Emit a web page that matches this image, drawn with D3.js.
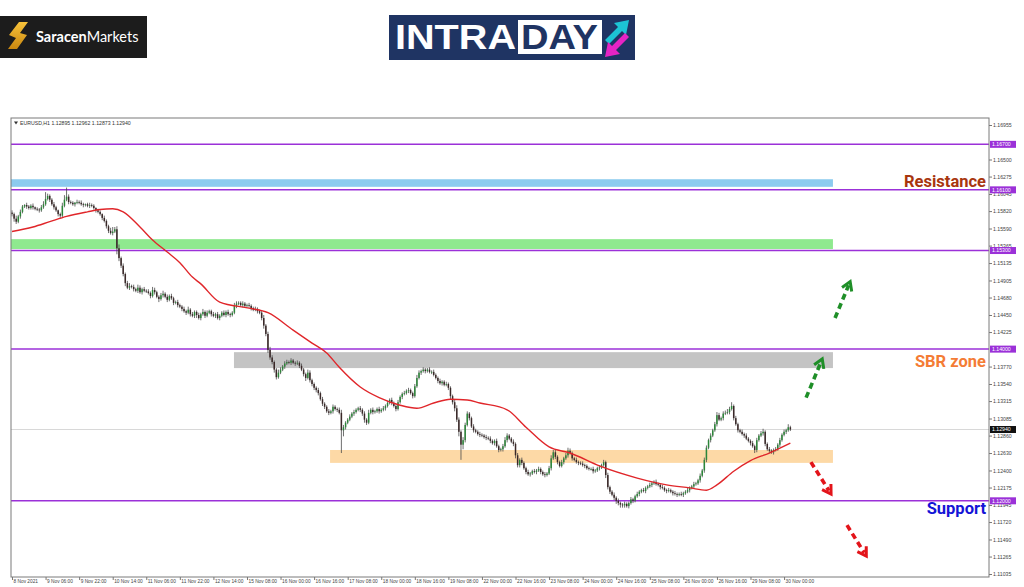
<!DOCTYPE html>
<html><head><meta charset="utf-8">
<script src="https://cdn.jsdelivr.net/npm/d3@7"></script>
<style>body{margin:0;background:#fff;}svg{display:block;}</style>
</head><body>
<svg id="c" width="1024" height="587"></svg>
<script>
// ---------- DATA ----------
const symbolTitle = "EURUSD,H1  1.12895 1.12962 1.12873 1.12940";
const firstOpen = 1.1580;
const closes = [
1.1578,1.1572,1.1568,1.1575,1.1581,1.1588,1.1590,1.1588,1.1586,1.1589,1.1587,1.1585,1.1584,1.1583,1.1587,1.1591,
1.1598,1.1602,1.1597,1.1591,1.1587,1.1583,1.1578,1.1576,1.1589,1.1597,1.1601,1.1594,1.1593,1.1591,1.1593,1.1594,
1.1593,1.1591,1.1590,1.1591,1.1589,1.1590,1.1589,1.1586,1.1583,1.1581,1.1578,1.1573,1.1569,1.1562,1.1556,1.1553,
1.1555,1.1558,1.1533,1.1520,1.1510,1.1499,1.1487,1.1481,1.1483,1.1482,1.1479,1.1477,1.1481,1.1475,1.1479,1.1477,1.1476,
1.1474,1.1470,1.1478,1.1475,1.1469,1.1466,1.1471,1.1473,1.1469,1.1465,1.1470,1.1467,1.1461,1.1462,1.1458,1.1456,
1.1453,1.1450,1.1448,1.1452,1.1446,1.1444,1.1449,1.1445,1.1441,1.1446,1.1449,1.1444,1.1448,1.1450,1.1446,1.1444,
1.1446,1.1441,1.1444,1.1448,1.1445,1.1449,1.1446,1.1445,1.1448,1.1457,1.1460,1.1461,1.1458,1.1460,1.1457,1.1458,
1.1457,1.1454,1.1452,1.1453,1.1450,1.1448,1.1441,1.1431,1.1420,1.1399,1.1389,1.1383,1.1373,1.1363,1.1369,1.1373,
1.1377,1.1381,1.1383,1.1382,1.1385,1.1382,1.1381,1.1382,1.1378,1.1373,1.1367,1.1362,1.1369,1.1359,1.1354,1.1349,1.1346,
1.1342,1.1334,1.1328,1.1324,1.1318,1.1316,1.1318,1.1324,1.1321,1.1320,1.1316,1.1293,1.1297,1.1303,1.1307,1.1311,
1.1315,1.1317,1.1320,1.1322,1.1320,1.1315,1.1307,1.1303,1.1316,1.1320,1.1317,1.1318,1.1321,1.1318,1.1320,1.1322,
1.1325,1.1329,1.1333,1.1329,1.1325,1.1321,1.1330,1.1337,1.1341,1.1342,1.1345,1.1346,1.1342,1.1338,1.1351,1.1362,
1.1369,1.1371,1.1373,1.1371,1.1373,1.1370,1.1370,1.1366,1.1362,1.1358,1.1355,1.1357,1.1353,1.1354,1.1349,1.1338,1.1330,
1.1322,1.1307,1.1291,1.1274,1.1280,1.1300,1.1315,1.1309,1.1298,1.1293,1.1291,1.1288,1.1287,1.1286,1.1284,1.1283,
1.1282,1.1279,1.1276,1.1279,1.1272,1.1267,1.1268,1.1272,1.1280,1.1286,1.1282,1.1278,1.1275,1.1260,1.1247,1.1254,
1.1250,1.1243,1.1238,1.1235,1.1236,1.1239,1.1238,1.1240,1.1242,1.1238,1.1235,1.1234,1.1236,1.1243,1.1256,1.1264,
1.1258,1.1251,1.1246,1.1251,1.1256,1.1260,1.1266,1.1263,1.1256,1.1254,1.1251,1.1250,1.1249,1.1247,1.1246,1.1243,1.1242,
1.1242,1.1239,1.1240,1.1243,1.1244,1.1247,1.1251,1.1234,1.1218,1.1212,1.1208,1.1204,1.1200,1.1197,1.1195,1.1194,
1.1196,1.1193,1.1197,1.1202,1.1200,1.1206,1.1209,1.1212,1.1214,1.1213,1.1217,1.1219,1.1221,1.1223,1.1225,1.1222,
1.1221,1.1218,1.1217,1.1214,1.1213,1.1214,1.1212,1.1210,1.1209,1.1208,1.1209,1.1208,1.1210,1.1212,1.1214,1.1217,
1.1219,1.1222,1.1223,1.1227,1.1233,1.1240,1.1254,1.1270,1.1280,1.1286,1.1293,1.1301,1.1313,1.1307,1.1309,1.1315,1.1316,
1.1317,1.1321,1.1325,1.1309,1.1301,1.1293,1.1291,1.1288,1.1286,1.1282,1.1279,1.1276,1.1272,1.1267,1.1280,1.1286,
1.1289,1.1291,1.1275,1.1268,1.1266,1.1264,1.1267,1.1268,1.1274,1.1280,1.1287,1.1291,1.1293,1.1297,1.1294
];
// wick extents in pips above / below the candle body
const wickUp = [
3,2,4,2,3,2,1,3,2,2,3,1,2,2,3,4,
9,3,2,2,3,2,1,2,4,6,12,3,2,2,1,3,
2,3,2,1,2,3,2,2,1,2,2,1,3,2,2,4,
6,3,4,5,2,3,2,3,4,2,3,2,4,3,2,3,2,
3,2,4,3,2,2,3,4,2,3,2,3,2,2,3,2,
2,3,2,4,2,3,2,2,3,2,4,2,3,2,2,3,
2,3,2,2,3,2,3,2,2,4,3,2,2,3,2,2,
3,2,2,3,2,2,3,4,2,3,4,3,2,2,4,3,
2,3,3,2,3,2,2,3,2,3,2,2,4,3,2,2,2,
3,2,3,2,2,3,2,3,2,2,3,4,3,2,2,3,
2,3,2,2,3,2,3,2,4,2,3,2,2,3,2,3,
2,3,2,3,2,2,3,2,2,3,2,3,2,2,3,4,
3,2,3,2,2,3,2,3,2,2,3,2,2,3,2,2,2,
3,4,3,2,4,3,3,2,2,3,2,2,3,2,2,3,
2,3,2,2,3,2,2,3,4,3,2,2,3,2,3,2,
3,2,2,3,2,2,3,2,3,2,2,3,2,3,4,3,
3,2,2,3,2,3,4,3,2,2,3,2,2,3,2,2,2,
2,3,2,2,3,2,3,2,3,2,2,3,2,3,2,2,
3,2,2,3,2,2,3,2,2,3,2,2,3,2,2,3,
2,2,3,2,2,3,2,2,3,2,2,3,2,2,3,2,
2,3,2,2,3,2,3,3,2,3,2,3,4,3,2,3,3,
4,3,5,2,3,2,2,3,2,3,2,2,3,2,3,2,
3,4,2,2,3,2,2,3,2,3,2,3,2,4,2
];
const wickDn = [
3,4,3,2,3,2,2,3,2,2,3,2,2,3,2,2,
2,2,3,2,3,2,3,4,2,2,2,3,2,2,3,2,
2,2,3,2,2,3,2,2,3,2,2,3,2,3,3,2,
3,2,8,4,3,3,4,2,3,2,3,2,3,2,3,2,2,
2,3,2,3,2,4,2,3,2,3,2,2,3,2,3,2,
3,2,3,2,3,2,3,4,2,3,2,3,2,2,3,2,
3,2,3,2,2,3,2,3,2,2,3,2,2,3,2,2,
2,3,2,2,3,2,3,4,3,4,3,3,4,3,2,2,
2,3,2,2,3,2,3,2,3,2,3,4,2,3,3,3,3,
3,2,3,3,2,3,2,3,2,3,2,30,8,3,2,2,
2,3,2,2,3,3,4,3,2,2,3,2,2,3,2,2,
3,2,2,3,2,3,2,2,3,2,2,3,2,3,2,2,
2,3,2,3,2,2,3,2,2,3,2,3,2,2,3,4,3,
4,3,6,20,6,3,2,3,2,3,2,2,3,2,2,3,
2,3,2,3,2,3,2,3,2,3,2,2,3,4,3,3,
3,2,3,2,3,2,2,3,2,3,2,3,2,2,3,2,
3,3,2,2,3,2,3,2,3,2,2,3,2,2,3,2,2,
2,3,2,2,3,2,2,4,3,3,2,3,4,3,4,3,
3,2,3,2,3,2,2,3,2,2,3,2,2,3,2,2,
2,3,2,2,3,2,2,3,2,3,2,2,3,2,2,3,
2,3,2,2,3,2,3,3,2,3,2,2,3,2,2,3,2,
2,3,2,3,2,3,2,2,3,2,2,3,2,4,3,2,
2,3,3,2,3,2,3,2,2,3,2,2,3,2,2
];
// moving average: [bar index, price]
const maPoints = [
[0,1.1555],[10,1.1561],[18,1.1568],[26,1.1575],[36,1.1581],[42,1.1584],[48,1.1585],[53,1.1581],
[61,1.1561],[67,1.1544],[74,1.1528],[80,1.1514],[86,1.1495],[90,1.1486],[99,1.1462],[113,1.1454],
[122,1.1448],[134,1.1425],[143,1.1408],[150,1.1395],[156,1.1376],[166,1.1350],[175,1.1336],[185,1.1326],
[193,1.1322],[201,1.1329],[209,1.1334],[217,1.1333],[223,1.1329],[236,1.1320],[245,1.1297],[256,1.1271],
[266,1.1263],[280,1.1246],[298,1.1230],[312,1.1221],[323,1.1217],[331,1.1214],[336,1.1221],[344,1.1239],
[352,1.1253],[361,1.1263],[371,1.1276]
];
const levelPrices = [1.16700, 1.16100, 1.15300, 1.14000, 1.12000];
const levelLabels = ["1.16700","1.16100","1.15300","1.14000","1.12000"];
const currentPrice = 1.12940;
const currentLabel = "1.12940";
const yTickValues = [1.16955,1.16500,1.16275,1.16045,1.15820,1.15590,1.15365,1.15135,1.14905,1.14680,1.14450,1.14225,
  1.13770,1.13540,1.13315,1.13085,1.12860,1.12630,1.12400,1.12175,1.11945,1.11720,1.11490,1.11265,1.11035];
const xLabels = ["8 Nov 2021","9 Nov 06:00","9 Nov 22:00","10 Nov 14:00","11 Nov 06:00","11 Nov 22:00","12 Nov 14:00",
  "15 Nov 08:00","16 Nov 00:00","16 Nov 16:00","17 Nov 08:00","18 Nov 00:00","18 Nov 16:00","19 Nov 08:00",
  "22 Nov 00:00","22 Nov 16:00","23 Nov 08:00","24 Nov 00:00","24 Nov 16:00","25 Nov 08:00","26 Nov 00:00",
  "26 Nov 16:00","29 Nov 08:00","30 Nov 00:00"];
const barsPerLabel = 16;
// zones: [top price, bottom price, from bar, to bar]
const zoneNames = ["resistance","upper","sbr","base"];
const zoneTop =    [1.1624, 1.1545, 1.1396, 1.1267];
const zoneBottom = [1.1614, 1.1532, 1.1375, 1.1250];
const zoneFrom =   [-0.5, -0.5, 105.8, 151.6];
const zoneTo =     [391.3, 391.3, 391.3, 391.3];
// scenario arrows: [from bar, from price, to bar, to price]
const arrowNames = ["up1","up2","down1","down2"];
const arrowData = [[392.3,1.1441,399.5,1.1489],[378.5,1.1336,386.2,1.1387],[380.8,1.1251,390.4,1.1209],[398.0,1.1168,407.2,1.1127]];
const annoTexts = ["Resistance","SBR zone","Support"];
const annoPrices = [1.1614, 1.1377, 1.1183];

// ---------- STYLES ----------
const zoneColors = {resistance:"#8ccbef", upper:"#8fe98f", sbr:"#c4c4c4", base:"#fdd9a6"};
const arrowColors = {up1:"#1f8f28", up2:"#1f8f28", down1:"#e3141a", down2:"#e3141a"};
const annoColors = ["#a8360e","#f47c35","#1414d6"];
const purple = "#9b31d8";

// ---------- SCALES ----------
const svg = d3.select("#c");
const P = {l:11, t:118, r:989, b:577};
const step = 2.098;
const x = d3.scaleLinear().domain([0, 466]).range([12, 12 + 466*step]);
const y = d3.scaleLinear().domain([1.11035, 1.16955]).range([574, 125]);

// ---------- HEADER ----------
const hd = svg.append("g");
hd.append("rect").attr("x",0).attr("y",16).attr("width",147).attr("height",42).attr("fill","#1c1c1c");
const grad = svg.append("defs").append("linearGradient").attr("id","gold").attr("x1",0).attr("y1",0).attr("x2",0).attr("y2",1);
grad.append("stop").attr("offset","0%").attr("stop-color","#f7c23a");
grad.append("stop").attr("offset","100%").attr("stop-color","#c98710");
hd.append("path").attr("d","M19,22 L28,22 L20,33 L27,35 L17,49 L8,49 L16,38 L9,35 Z").attr("fill","url(#gold)");
const st = hd.append("text").attr("x",36).attr("y",42).attr("fill","#fff").attr("font-family","Lato, 'Open Sans', sans-serif").attr("font-size",14.5);
st.append("tspan").attr("font-weight",700).text("Saracen");
st.append("tspan").attr("font-weight",400).text("Markets");

hd.append("rect").attr("x",389).attr("y",15).attr("width",246).attr("height",45).attr("fill","#1f3463");
hd.append("text").attr("x",395).attr("y",49).attr("fill","#fff").attr("font-family","'Liberation Sans', Arial, sans-serif")
  .attr("font-weight",700).attr("font-size",35).attr("textLength",121).attr("lengthAdjust","spacingAndGlyphs").text("INTRA");
hd.append("rect").attr("x",518).attr("y",20).attr("width",84).attr("height",34).attr("fill","#fff");
hd.append("text").attr("x",521).attr("y",49).attr("fill","#1f3463").attr("font-family","'Liberation Sans', Arial, sans-serif")
  .attr("font-weight",700).attr("font-size",35).attr("textLength",77).attr("lengthAdjust","spacingAndGlyphs").text("DAY");
hd.append("path").attr("d","M605,40 L618,27 L614,23 L629,20 L626,35 L622,31 L609,44 Z").attr("fill","#1cc4d4");
hd.append("path").attr("d","M629,37 L616,50 L620,54 L605,57 L608,42 L612,46 L625,33 Z").attr("fill","#e624c4");

// ---------- PLOT ----------
const g = svg.append("g");
zoneNames.forEach((n,i)=>{
  g.append("rect").attr("x",x(zoneFrom[i])).attr("y",y(zoneTop[i]))
   .attr("width",x(zoneTo[i])-x(zoneFrom[i])).attr("height",y(zoneBottom[i])-y(zoneTop[i]))
   .attr("fill",zoneColors[n]);
});
g.append("line").attr("x1",P.l).attr("x2",P.r).attr("y1",y(currentPrice)).attr("y2",y(currentPrice))
  .attr("stroke","#d8d8d8").attr("stroke-width",1);
levelPrices.forEach(p=>{
  g.append("line").attr("x1",P.l).attr("x2",P.r).attr("y1",y(p)).attr("y2",y(p))
   .attr("stroke",purple).attr("stroke-width",1.5);
});

const candles = closes.map((c,i)=>{
  const o = i===0 ? firstOpen : closes[i-1];
  return {i, o, c, h: Math.max(o,c)+wickUp[i]*0.0001, l: Math.min(o,c)-wickDn[i]*0.0001};
});
const cg = g.append("g");
cg.selectAll("line.w").data(candles).join("line").attr("class","w")
  .attr("x1",d=>x(d.i)).attr("x2",d=>x(d.i)).attr("y1",d=>y(d.h)).attr("y2",d=>y(d.l))
  .attr("stroke","#4a4a4a").attr("stroke-width",0.8);
cg.selectAll("rect.b").data(candles).join("rect").attr("class","b")
  .attr("x",d=>x(d.i)-0.75).attr("width",1.5)
  .attr("y",d=>y(Math.max(d.o,d.c))).attr("height",d=>Math.max(0.8, Math.abs(y(d.o)-y(d.c))))
  .attr("fill",d=>d.c>=d.o ? "#2c8639" : "#3a2828");

g.append("path").datum(maPoints)
  .attr("d", d3.line().x(d=>x(d[0])).y(d=>y(d[1])).curve(d3.curveMonotoneX))
  .attr("fill","none").attr("stroke","#e0262a").attr("stroke-width",1.4);

arrowNames.forEach((n,i)=>{
  const [b0,p0,b1,p1] = arrowData[i];
  const x0=x(b0), y0=y(p0), x1=x(b1), y1=y(p1);
  const ang = Math.atan2(y1-y0, x1-x0);
  const sx = x1 - Math.cos(ang)*4, sy = y1 - Math.sin(ang)*4;
  g.append("line").attr("x1",x0).attr("y1",y0).attr("x2",sx).attr("y2",sy)
    .attr("stroke",arrowColors[n]).attr("stroke-width",3.6).attr("stroke-dasharray","6,4");
  const hl = 10, ha = 0.55;
  const ax = x1 - Math.cos(ang-ha)*hl, ay = y1 - Math.sin(ang-ha)*hl;
  const bx = x1 - Math.cos(ang+ha)*hl, by = y1 - Math.sin(ang+ha)*hl;
  g.append("path").attr("d",`M${ax},${ay} L${x1},${y1} L${bx},${by}`)
    .attr("fill","none").attr("stroke",arrowColors[n]).attr("stroke-width",3).attr("stroke-linejoin","miter");
});

annoTexts.forEach((t,i)=>{
  g.append("text").attr("x",986).attr("y",y(annoPrices[i])).attr("text-anchor","end")
   .attr("font-family","Roboto, 'Open Sans', sans-serif").attr("font-weight",700).attr("font-size",16.5)
   .attr("fill",annoColors[i]).text(t);
});

svg.append("rect").attr("x",P.l).attr("y",P.t).attr("width",P.r-P.l).attr("height",P.b-P.t)
  .attr("fill","none").attr("stroke","#7a7a7a").attr("stroke-width",1);

svg.append("path").attr("d","M14,121.5 L18,121.5 L16,124.5 Z").attr("fill","#333");
svg.append("text").attr("x",20).attr("y",124.5).attr("font-family","'Liberation Sans', Arial, sans-serif").attr("font-size",5.2)
  .attr("fill","#333").text(symbolTitle);

const ya = svg.append("g").attr("transform",`translate(${P.r},0)`)
  .call(d3.axisRight(y).tickValues(yTickValues).tickSize(3).tickFormat(d3.format(".5f")));
ya.select(".domain").remove();
ya.selectAll("line").attr("stroke","#777");
ya.selectAll("text").attr("font-family","'Liberation Sans', Arial, sans-serif").attr("font-size",5.2).attr("fill","#444").attr("x",4);

levelPrices.forEach((p,i)=>{
  svg.append("rect").attr("x",990).attr("y",y(p)-3.5).attr("width",26).attr("height",7).attr("fill",purple);
  svg.append("text").attr("x",992).attr("y",y(p)+1.8).attr("font-family","'Liberation Sans', Arial, sans-serif")
    .attr("font-size",5.2).attr("fill","#fff").text(levelLabels[i]);
});
svg.append("rect").attr("x",990).attr("y",y(currentPrice)-3.5).attr("width",26).attr("height",7).attr("fill","#111");
svg.append("text").attr("x",992).attr("y",y(currentPrice)+1.8).attr("font-family","'Liberation Sans', Arial, sans-serif")
  .attr("font-size",5.2).attr("fill","#fff").text(currentLabel);

const xa = svg.append("g").attr("transform",`translate(0,${P.b})`)
  .call(d3.axisBottom(x).tickValues(xLabels.map((_,k)=>k*barsPerLabel)).tickSize(3)
    .tickFormat((d,k)=>xLabels[k]));
xa.select(".domain").remove();
xa.selectAll("line").attr("stroke","#777");
xa.selectAll("text").attr("font-family","'Liberation Sans', Arial, sans-serif").attr("font-size",4.8).attr("fill","#444")
  .attr("text-anchor","start").attr("dx",1).attr("y",3).attr("dy","0.71em");
</script>
</body></html>
